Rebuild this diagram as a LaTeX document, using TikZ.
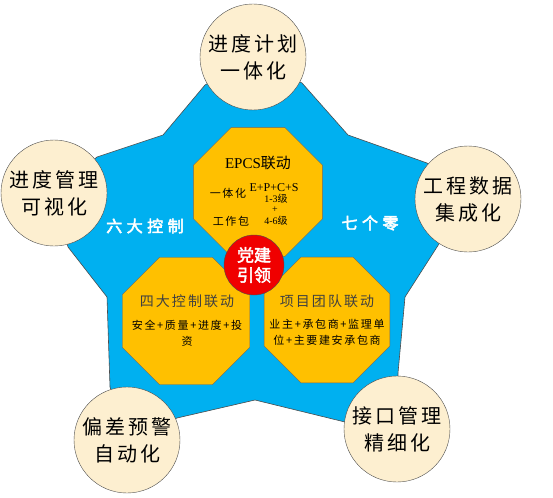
\documentclass[tikz,border=0pt]{standalone}
\usepackage{fontspec}
\setmainfont{Liberation Serif}
\newfontfamily\cjk{Noto Sans CJK SC}
\newfontfamily\cjkwide[LetterSpace=15]{Noto Sans CJK SC}
\newfontfamily\cjkbold[FakeBold=2.5]{Noto Sans CJK SC}
\newfontfamily\cjkboldwide[FakeBold=3,LetterSpace=28]{Noto Sans CJK SC}
\usetikzlibrary{shapes,positioning}
\definecolor{sky}{HTML}{00B0F0}
\definecolor{gold}{HTML}{FFC000}
\definecolor{cream}{HTML}{FDEFD0}
\definecolor{partyred}{HTML}{F00000}

\begin{document}
\begin{tikzpicture}[x=1pt,y=-1pt,
  goal node/.style={circle,draw=black!70,fill=cream,minimum size=106pt,inner sep=0pt,align=center,font=\fontsize{20}{27}\selectfont\cjkwide},
  link node/.style={regular polygon,regular polygon sides=8,draw=black!60,fill=gold,inner sep=0pt},
  head text/.style={text=black!75,font=\fontsize{14}{17}\selectfont\cjkwide},
  small text/.style={align=center,inner sep=0pt,font=\fontsize{11}{16}\selectfont\cjkwide},
  level text/.style={inner sep=0pt,font=\fontsize{10}{12}\selectfont},
  white text/.style={text=white,font=\fontsize{16}{18}\selectfont\cjkboldwide}]
\useasboundingbox (0,0) rectangle (553,497);
% pentagon background
\filldraw[fill=sky,draw=black!70,line width=0.6pt] (253,57) -- (302,83) -- (348,135) -- (427,163) -- (468,199) -- (437,247) -- (405,297) -- (398,373) -- (397,429) -- (345,422) -- (255,400) -- (177,418) -- (127,440) -- (110,387) -- (107,297) -- (68,247) -- (54,192) -- (97,157) -- (163,135) -- (205,85) -- cycle;
% outer goals
\node[goal node] (plan) at (253,57) {进度计划\\一体化};
\node[goal node] (visual) at (54,193) {进度管理\\可视化};
\node[goal node] (data) at (468,199) {工程数据\\集成化};
\node[goal node] (warn) at (127,440) {偏差预警\\自动化};
\node[goal node] (iface) at (397,429) {接口管理\\精细化};
% linkage blocks
\node[link node,minimum size=140pt] (epcs) at (258,192) {};
\node[link node,minimum size=138pt] (ctrl) at (186,321) {};
\node[link node,minimum size=136pt] (team) at (327,320) {};
\node[circle,draw=black!70,fill=partyred,minimum size=60pt,inner sep=0pt,align=center,text=white,font=\fontsize{17}{20}\selectfont\cjkbold] (lead) at (254,265) {党建\\引领};
% texts
\node[font=\fontsize{15}{18}\selectfont] (epcs title) at (258,163) {EPCS{\cjk 联动}};
\node[small text] (integ) at (228,193) {一体化};
\node[font=\fontsize{12}{14}\selectfont,inner sep=0pt] (eps) at (274,188) {E+P+C+S};
\node[level text] (lv13) at (276,199) {1-3{\cjk 级}};
\node[level text] (plus) at (275,210) {+};
\node[small text] (pack) at (231,221) {工作包};
\node[level text] (lv46) at (276,221) {4-6{\cjk 级}};
\node[head text] (ctrl title) at (187,301) {四大控制联动};
\node[small text] (ctrl items) at (187,333) {安全+质量+进度+投\\资};
\node[head text] (team title) at (327,301) {项目团队联动};
\node[small text] (team items) at (327,332) {业主+承包商+监理单\\位+主要建安承包商};
\node[white text] (six) at (145,226) {六大控制};
\node[white text] (seven) at (370,223) {七个零};
\end{tikzpicture}
\end{document}
